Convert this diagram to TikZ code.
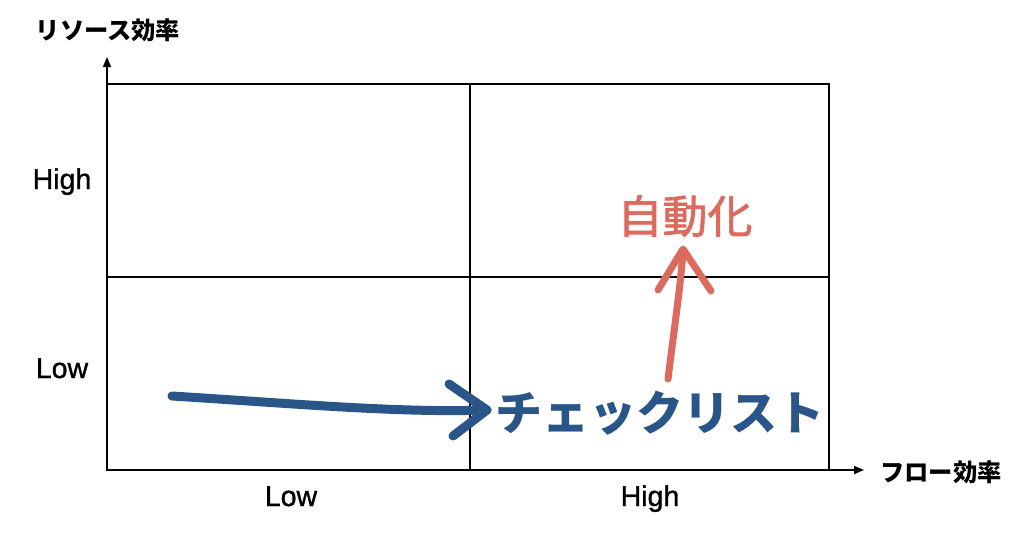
\documentclass[tikz,border=0pt]{standalone}
\usepackage{fontspec}
\setmainfont{Liberation Sans}
\newfontfamily\medsans[FakeBold=1.2]{Liberation Sans}
\newfontfamily\jp{Noto Sans CJK JP}
\newfontfamily\jpmed[FakeBold=1.6]{Noto Sans CJK JP}
\usetikzlibrary{arrows.meta}
\definecolor{brushblue}{HTML}{2A5588}
\definecolor{brushred}{HTML}{DD6A5E}
\begin{document}
\begin{tikzpicture}[x=1pt,y=-1pt,
  gridline/.style={line width=1.7pt,black},
  axisline/.style={line width=1.7pt,black,-{Triangle[length=10pt,width=8pt]}},
  lbl/.style={font=\medsans\fontsize{28.5}{28.5}\selectfont,inner sep=0pt,anchor=base},
  axlbl/.style={font=\jp\bfseries\fontsize{24.3}{24.3}\selectfont,inner sep=0pt},
  bluebrush/.style={brushblue,line width=9pt,line cap=round,line join=round},
  redbrush/.style={brushred,line width=7pt,line cap=round,line join=round},
  bigblue/.style={font=\jp\bfseries\fontsize{47}{47}\selectfont,text=brushblue,inner sep=0pt},
  bigred/.style={font=\jpmed\fontsize{45}{45}\selectfont,text=brushred,inner sep=0pt}]
\useasboundingbox (0,0) rectangle (1024,533);
% grid
\draw[gridline] (107,84) rectangle (829,470);
\draw[gridline] (470,84) -- (470,470);
\draw[gridline] (107,277) -- (829,277);
% axes
\coordinate (o) at (107,470);
\coordinate (ytip) at (107,57);
\coordinate (xtip) at (864,470);
\draw[axisline] (o) -- (ytip);
\draw[axisline] (o) -- (xtip);
% labels
\node[axlbl] (ylab) at (108,30) {リソース効率};
\node[axlbl] (xlab) at (941,472) {フロー効率};
\node[lbl] (yh) at (62,189) {High};
\node[lbl] (yl) at (62,378) {Low};
\node[lbl] (xl) at (291,506) {Low};
\node[lbl] (xh) at (650,506) {High};
\node[bigblue] (check) at (660,413) {チェックリスト};
\node[bigred] (auto) at (685,216) {自動化};
% blue brush arrow
\coordinate (b1) at (172,396);
\coordinate (b2) at (487,410);
\coordinate (bh1) at (449,384);
\coordinate (bh2) at (453,436);
\draw[bluebrush] (b1) .. controls (300,404) and (400,413) .. (b2);
\draw[bluebrush] (bh1) -- (b2) -- (bh2);
% red brush arrow
\coordinate (r1) at (668,379);
\coordinate (r2) at (683,252);
\coordinate (rh1) at (658,290);
\coordinate (rh2) at (711,291);
\draw[redbrush] (r1) .. controls (674,330) and (680,290) .. (r2);
\draw[redbrush] (rh1) -- (683,249) -- (rh2);
\end{tikzpicture}
\end{document}
